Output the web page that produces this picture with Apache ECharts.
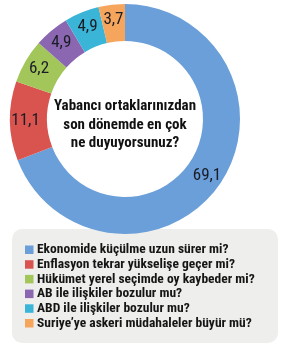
<!DOCTYPE html>
<html><head><meta charset="utf-8">
<script src="https://cdn.jsdelivr.net/npm/echarts@6/dist/echarts.min.js"></script>
<style>html,body{margin:0;padding:0;background:#fff}#c{width:283px;height:348px}</style>
</head><body><div id="c"></div>
<script>
const categories = [
  "Ekonomide küçülme uzun sürer mi?",
  "Enflasyon tekrar yükselişe geçer mi?",
  "Hükümet yerel seçimde oy kaybeder mi?",
  "AB ile ilişkiler bozulur mu?",
  "ABD ile ilişkiler bozulur mu?",
  "Suriye’ye askeri müdahaleler büyür mü?"
];
const values = [69.1, 11.1, 6.2, 4.9, 4.9, 3.7];
const colors = ["#6a9fd9", "#d9534f", "#a2c65a", "#8b67b1", "#3ab5d7", "#f6a55c"];
const centerTitle = "Yabancı ortaklarınızdan\nson dönemde en çok\nne duyuyorsunuz?";

const fam = "'Roboto Condensed', Roboto, sans-serif";
const titleFont = "bold condensed 15px " + fam;
const legendFont = "bold condensed 13.5px " + fam;

// legend drawn as graphic items (layout only; names/colours from the arrays above)
const legendItems = [];
categories.forEach((name, i) => {
  const cy = 250 + i * 14.7;
  legendItems.push({type:'rect', shape:{x:25, y:cy - 4.5, width:8.5, height:8.5}, style:{fill:colors[i]}, z:5});
  legendItems.push({type:'text', x:37, y:cy, z:5,
    style:{text:name, font:legendFont, fill:'#151515', textVerticalAlign:'middle', textAlign:'left'}});
});

const chart = echarts.init(document.getElementById('c'), null, {renderer:'canvas'});
chart.setOption({
  animation:false,
  color: colors,
  graphic: [
    {type:'rect', shape:{x:12, y:229, width:266, height:114, r:10}, style:{fill:'#eeeeec'}, z:0},
    {type:'text', x:125, y:97, z:10,
     style:{text:centerTitle, font:titleFont, fill:'#111', textAlign:'center', textVerticalAlign:'top', lineHeight:18.5}}
  ].concat(legendItems),
  series: [{
    type:'pie', center:[125,119], radius:[78,115], startAngle:90, clockwise:true,
    avoidLabelOverlap:false,
    label:{position:'inside', formatter:p=>String(p.value).replace('.',','), fontFamily:"'Roboto Condensed'", fontWeight:'normal', fontSize:17, color:'#1a1c26'},
    labelLine:{show:false},
    data: categories.map((c,i)=>({name:c, value:values[i]}))
  }]
});
</script></body></html>
